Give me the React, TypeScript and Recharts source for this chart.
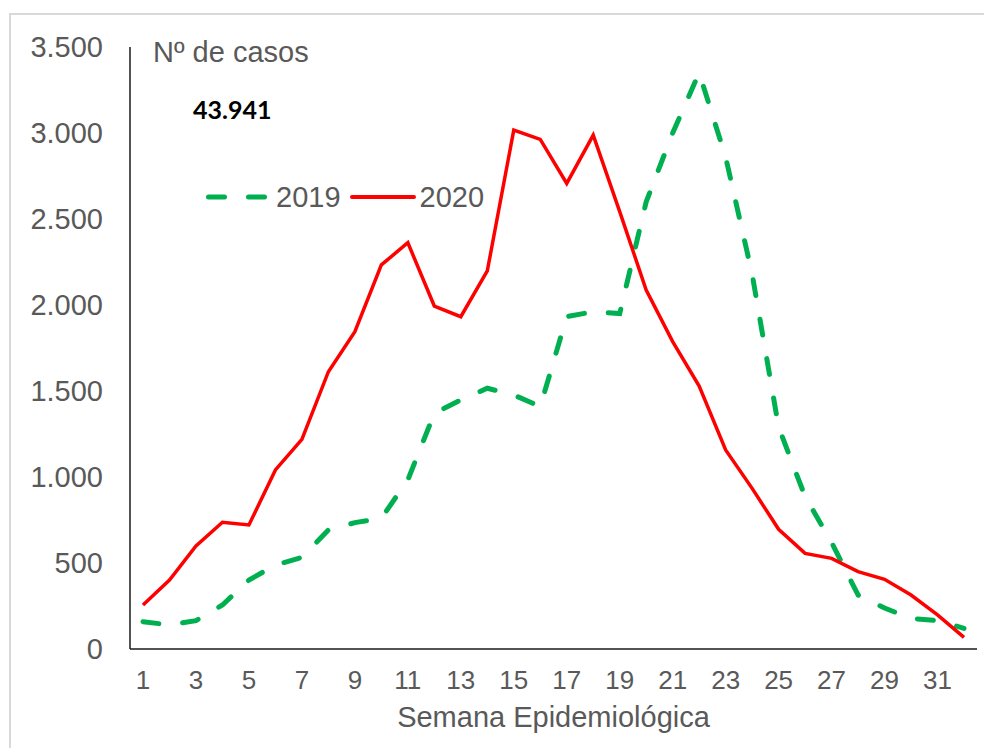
import { LineChart, Line, XAxis, YAxis, Legend } from "recharts"

const weeks = Array.from({ length: 32 }, (_, i) => i + 1)
const cases2019 = [159, 140, 165, 256, 401, 488, 533, 692, 735, 760, 983, 1370, 1448, 1516, 1477, 1409, 1932, 1961, 1950, 2600, 3000, 3350, 2860, 2180, 1290, 886, 620, 314, 238, 178, 165, 120]
const cases2020 = [256, 401, 599, 737, 721, 1041, 1219, 1612, 1845, 2233, 2362, 1994, 1932, 2198, 3017, 2963, 2707, 2988, 2543, 2087, 1787, 1529, 1157, 934, 696, 556, 527, 450, 405, 314, 198, 68]
const yTicks = [0, 500, 1000, 1500, 2000, 2500, 3000, 3500]
const totalLabel = "43.941"

const data = weeks.map((week, i) => ({ week, y2019: cases2019[i], y2020: cases2020[i] }))

const GRAY = "#595959"
const GREEN = "#00b050"
const RED = "#ff0000"
const FONT = '"Liberation Sans", Arial, sans-serif'

const fmt = (v: number) => String(v).replace(/\B(?=(\d{3})+(?!\d))/g, ".")

function LegendContent() {
  return (
    <div style={{ display: "flex", alignItems: "center", height: 30, fontFamily: FONT, fontSize: 29, color: GRAY }}>
      <svg width={64} height={10}>
        <line x1={2.5} y1={5} x2={61.5} y2={5} stroke={GREEN} strokeWidth={5} strokeDasharray="16 24" strokeLinecap="round" />
      </svg>
      <span style={{ marginLeft: 6, lineHeight: 1 }}>2019</span>
      <svg width={66} height={10} style={{ marginLeft: 9 }}>
        <line x1={2} y1={5} x2={64} y2={5} stroke={RED} strokeWidth={4} strokeLinecap="round" />
      </svg>
      <span style={{ marginLeft: 4, lineHeight: 1 }}>2020</span>
    </div>
  )
}

export default function App() {
  return (
    <div style={{ position: "relative", width: 976, height: 740, overflow: "hidden", background: "#fff" }}>
      <div style={{ position: "absolute", left: 1, top: 5, width: 1000, height: 1000, border: "2px solid #d9d9d9", boxSizing: "border-box" }} />
      <div style={{ position: "absolute", left: 0, top: 0 }}>
        <LineChart width={976} height={740} data={data} margin={{ top: 39, right: 7, left: 0, bottom: 0 }}>
          <XAxis
            dataKey="week"
            interval={1}
            padding={{ left: 13, right: 13 }}
            stroke="#1a1a1a"
            strokeWidth={1.5}
            tickLine={false}
            tickSize={0}
            tickMargin={22}
            height={99}
            tick={{ fill: GRAY, fontSize: 26, fontFamily: FONT }}
            label={{ value: "Semana Epidemiológica", position: "insideBottom", offset: 21, fill: GRAY, fontSize: 29, fontFamily: FONT }}
          />
          <YAxis
            domain={[0, 3500]}
            ticks={yTicks}
            width={122}
            stroke="#1a1a1a"
            strokeWidth={1.5}
            tickLine={false}
            tickSize={0}
            tickMargin={27}
            tickFormatter={fmt}
            tick={{ fill: GRAY, fontSize: 29, fontFamily: FONT }}
          />
          <Legend
            layout="horizontal"
            verticalAlign="middle"
            align="center"
            content={<LegendContent />}
            wrapperStyle={{ left: 198, top: 174, width: "auto" }}
          />
          <Line type="linear" dataKey="y2019" name="2019" stroke={GREEN} strokeWidth={5} strokeDasharray="16 24" strokeLinecap="round" dot={false} isAnimationActive={false} />
          <Line type="linear" dataKey="y2020" name="2020" stroke={RED} strokeWidth={3.5} dot={false} isAnimationActive={false} />
        </LineChart>
      </div>
      <div style={{ position: "absolute", left: 145, top: 30, fontFamily: FONT, fontSize: 29, lineHeight: 1, color: GRAY, whiteSpace: "nowrap" }}>
        Nº de casos
      </div>
      <div style={{ position: "absolute", left: 185, top: 89, fontFamily: "Lato, sans-serif", fontWeight: 700, fontSize: 25, lineHeight: 1, color: "#000" }}>
        {totalLabel}
      </div>
    </div>
  )
}
